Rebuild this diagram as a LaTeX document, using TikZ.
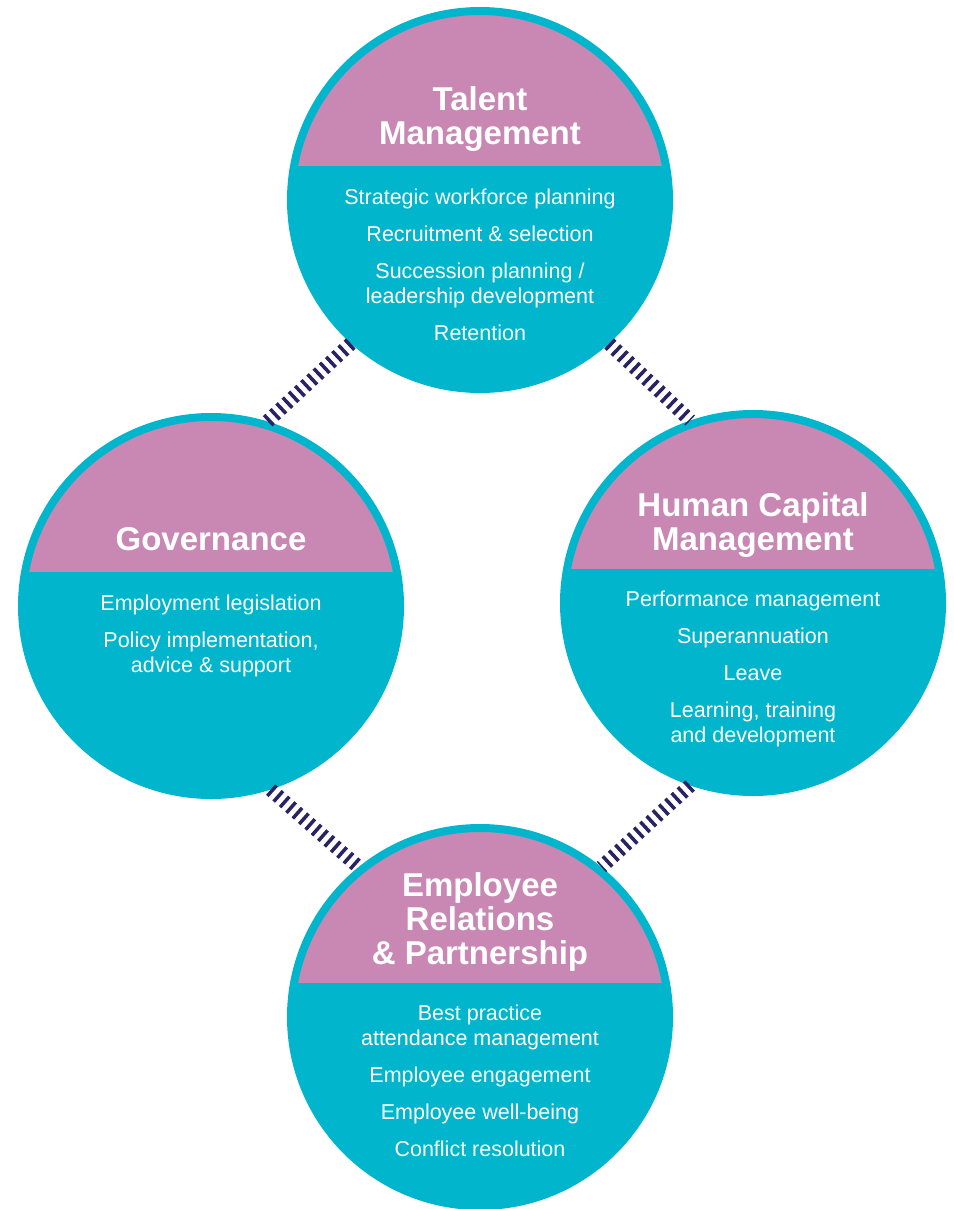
\documentclass[tikz,border=0pt]{standalone}
\usepackage{fontspec}
\setmainfont{Liberation Sans}
\usepackage{tikz}

\definecolor{ringblue}{HTML}{00B5CC}
\definecolor{headpink}{HTML}{C888B3}
\definecolor{linknavy}{HTML}{2B2265}

\begin{document}
\begin{tikzpicture}
[
x=1pt, y=-1pt,
area/.style={circle, draw=ringblue, fill=ringblue, line width=8pt,
  minimum size=378pt, inner sep=0pt,
  path picture={\fill[headpink] (path picture bounding box.north west)
    rectangle ([yshift=34pt]path picture bounding box.east);}},
title/.style={anchor=north, inner sep=0pt, align=center, text=white,
  font=\fontsize{33}{34}\selectfont\bfseries},
items/.style={anchor=north, inner sep=0pt, align=center, text=white,
  font=\fontsize{21.5}{25}\selectfont},
hatch/.style={draw=linknavy, line width=14pt, dash pattern=on 3.5pt off 5pt}
]
\useasboundingbox (0,0) rectangle (953,1209);

% the four areas
\node[area] (talent) at (480,200) {};
\node[area] (gov) at (211,606) {};
\node[area] (hcm) at (753,603) {};
\node[area] (emp) at (480,1017) {};

% links
\draw[hatch] (talent.228) -- (gov.73);
\draw[hatch] (talent.312) -- (hcm.109);
\draw[hatch] (gov.288) -- (emp.129);
\draw[hatch] (hcm.251) -- (emp.51);

% headings
\node[title] (talent-h) at (480,86) {Talent\\Management};
\node[title] (gov-h) at (211,527) {Governance};
\node[title] (hcm-h) at (753,492) {Human Capital\\Management};
\node[title] (emp-h) at (480,872) {Employee\\Relations\\\& Partnership};

% lists
\node[items] (talent-l) at (480,189) {Strategic workforce planning\\[12pt]
  Recruitment \& selection\\[12pt]
  Succession planning /\\leadership development\\[12pt]
  Retention};
\node[items] (gov-l) at (211,595) {Employment legislation\\[12pt]
  Policy implementation,\\advice \& support};
\node[items] (hcm-l) at (753,591) {Performance management\\[12pt]
  Superannuation\\[12pt]
  Leave\\[12pt]
  Learning, training\\and development};
\node[items] (emp-l) at (480,1005) {Best practice\\attendance management\\[12pt]
  Employee engagement\\[12pt]
  Employee well-being\\[12pt]
  Conflict resolution};
\end{tikzpicture}
\end{document}
